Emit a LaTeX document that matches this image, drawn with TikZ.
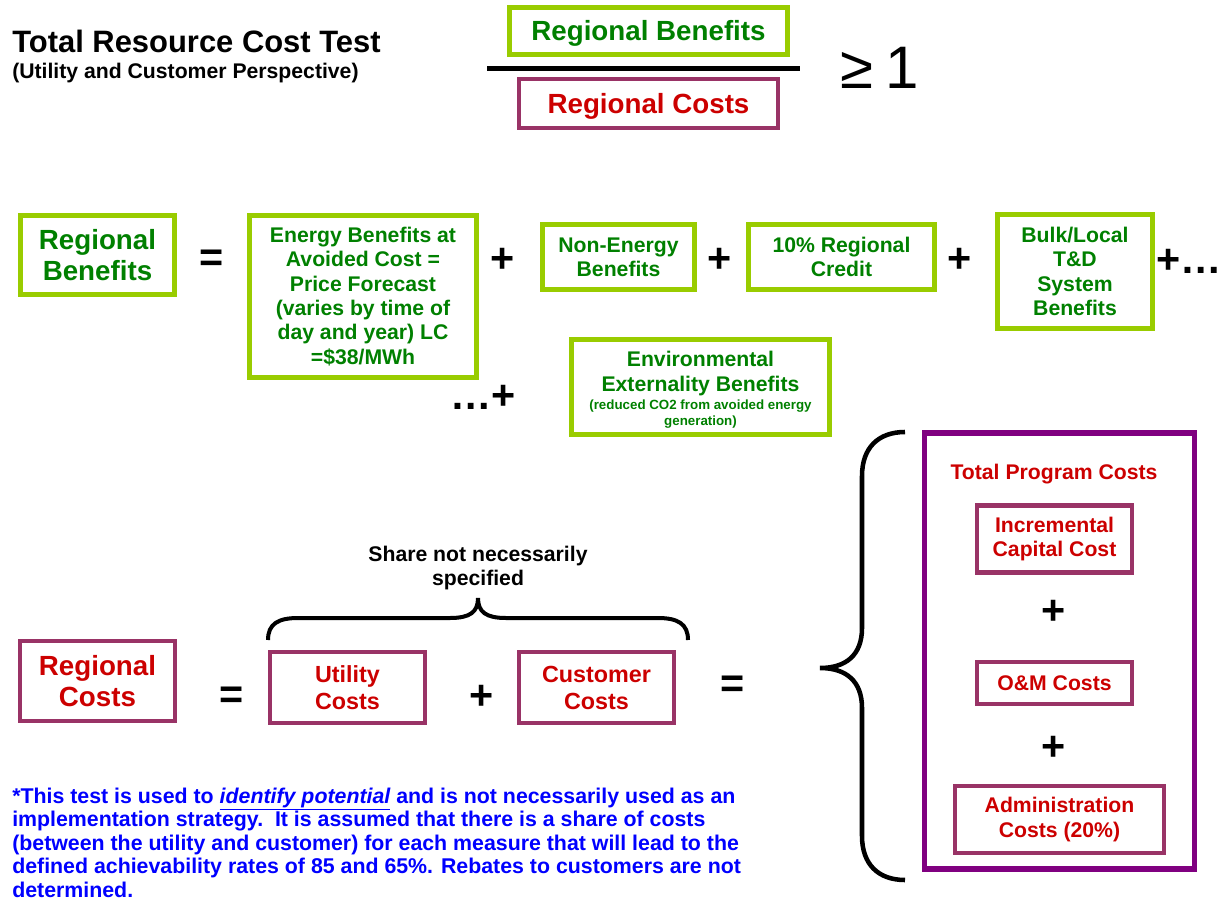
\documentclass[tikz,border=0pt]{standalone}
\usepackage{fontspec}
\setmainfont{Liberation Sans}
\definecolor{lgreen}{HTML}{99CC00}
\definecolor{dgreen}{HTML}{008000}
\definecolor{plum}{HTML}{993366}
\definecolor{cred}{HTML}{CC0000}
\definecolor{purp}{HTML}{800080}
\definecolor{nblue}{HTML}{0000FF}
\begin{document}
\begin{tikzpicture}[x=0.75pt,y=-0.75pt,
  gbox/.style={draw=lgreen,line width=3.75pt,text=dgreen,inner sep=0pt,align=center},
  pbox/.style={draw=plum,line width=3.3pt,text=cred,inner sep=0pt,align=center},
  op/.style={font=\fontsize{31}{31}\selectfont\bfseries,inner sep=0pt},
  fs/.style={font=\fontsize{15.9}{18.2}\selectfont\bfseries},
  fm/.style={font=\fontsize{17.5}{20.3}\selectfont\bfseries},
  fl/.style={font=\fontsize{20.8}{23.3}\selectfont\bfseries}]
\useasboundingbox (0,0) rectangle (1220,903);
% title
\node[anchor=base west,inner sep=0pt,font=\fontsize{23.2}{27}\selectfont\bfseries] (title) at (12,52) {Total Resource Cost Test};
\node[anchor=base west,inner sep=0pt,font=\fontsize{15.9}{19}\selectfont\bfseries] (sub) at (12,78) {(Utility and Customer Perspective)};
% fraction
\node[gbox,fl,minimum width=208.5pt,minimum height=35.25pt] (rbt) at (648.5,31) {\raisebox{-2pt}[\height][\depth]{Regional Benefits}};
\coordinate (barl) at (487,68);
\coordinate (barr) at (800,68);
\draw[line width=3.75pt] (barl) -- (barr);
\node[pbox,fl,minimum width=194.25pt,minimum height=36.75pt] (rct) at (648.5,103.5) {\raisebox{-2pt}[\height][\depth]{Regional Costs}};
\node[anchor=base west,inner sep=0pt,font=\fontsize{45}{45}\selectfont] (ge) at (840,88) {≥\kern0.2em 1};
% benefits row
\node[gbox,fl,minimum width=115.5pt,minimum height=59.25pt] (rbl) at (97.5,255) {Regional\\Benefits};
\node[op] (eq1) at (212,261) {=};
\node[gbox,fs,minimum width=170.25pt,minimum height=121.5pt] (energy) at (363,296.5) {Energy Benefits at\\Avoided Cost =\\Price Forecast\\(varies by time of\\day and year) LC\\=\$38/MWh};
\node[op] (p1) at (503,260) {+};
\node[gbox,fs,minimum width=114pt,minimum height=48.75pt] (nonen) at (618.5,257) {Non-Energy\\Benefits};
\node[op] (p2) at (720,260) {+};
\node[gbox,fs,minimum width=139.5pt,minimum height=48.75pt] (credit) at (841.5,257) {10\% Regional\\Credit};
\node[op] (p3) at (960,260) {+};
\node[gbox,fs,minimum width=116.25pt,minimum height=85.5pt] (bulk) at (1075,271.5) {Bulk/Local\\T\&D\\System\\Benefits};
\node[op,anchor=west] (pdots) at (1156,261) {+…};
\node[op] (dotsp) at (483,397) {…+};
\node[gbox,minimum width=193.5pt,minimum height=71.25pt] (env) at (700.5,387) {};
\node[fs,text=dgreen,align=center,inner sep=0pt] (envt) at (700.5,373.5) {Environmental\\Externality Benefits};
\node[font=\fontsize{10}{12}\selectfont\bfseries,text=dgreen,align=center,inner sep=0pt] (envs) at (700.5,414) {(reduced CO2 from avoided energy\\generation)};
% total program costs
\node[draw=purp,line width=4.2pt,minimum width=202.5pt,minimum height=327pt,inner sep=0pt] (tpc) at (1059.5,651) {};
\node[fs,text=cred,inner sep=0pt] (tpct) at (1054,474) {Total Program Costs};
\node[pbox,fs,minimum width=116.25pt,minimum height=50.25pt] (inc) at (1054.5,539) {Incremental\\Capital Cost};
\node[op] (p4) at (1054,612) {+};
\node[pbox,fs,minimum width=116.25pt,minimum height=31.5pt] (om) at (1054.5,683) {O\&M Costs};
\node[op] (p5) at (1054,748) {+};
\node[pbox,fs,minimum width=156.75pt,minimum height=50.25pt] (adm) at (1059.5,819.5) {Administration\\Costs (20\%)};
% braces
\draw[line width=3.4pt] (905,432) .. controls (878,432) and (862,448) .. (862,476) -- (862,628) .. controls (862,655) and (846,668) .. (820,668) .. controls (846,668) and (862,681) .. (862,708) -- (862,836) .. controls (862,864) and (878,880) .. (905,880);
\draw[line width=3pt] (268,640) .. controls (268,624) and (278,618) .. (298,618) -- (450,618) .. controls (470,618) and (478,612) .. (478,598) .. controls (478,612) and (486,618) .. (506,618) -- (658,618) .. controls (678,618) and (688,624) .. (688,640);
\node[fs,align=center,inner sep=0pt] (share) at (478,568) {Share not necessarily\\specified};
% costs row
\node[pbox,fl,minimum width=116.25pt,minimum height=60pt] (rcl) at (97.5,681) {Regional\\Costs};
\node[op] (eq2) at (232,698) {=};
\node[pbox,fm,minimum width=116.25pt,minimum height=53.25pt] (util) at (347.5,687.5) {Utility\\Costs};
\node[op] (p6) at (482,697) {+};
\node[pbox,fm,minimum width=116.25pt,minimum height=53.25pt] (cust) at (596.5,687.5) {Customer\\Costs};
\node[op] (eq3) at (733,687) {=};
% note
\node[anchor=north west,inner sep=0pt,align=left,text=nblue,font=\fontsize{16}{17.6}\selectfont\bfseries] (note) at (12,787.5) {*This test is used to \underline{\itshape identify potential} and is not necessarily used as an\\implementation strategy.\ \ It is assumed that there is a share of costs\\(between the utility and customer) for each measure that will lead to the\\defined achievability rates of 85 and 65\%. Rebates to customers are not\\determined.};
\end{tikzpicture}
\end{document}
